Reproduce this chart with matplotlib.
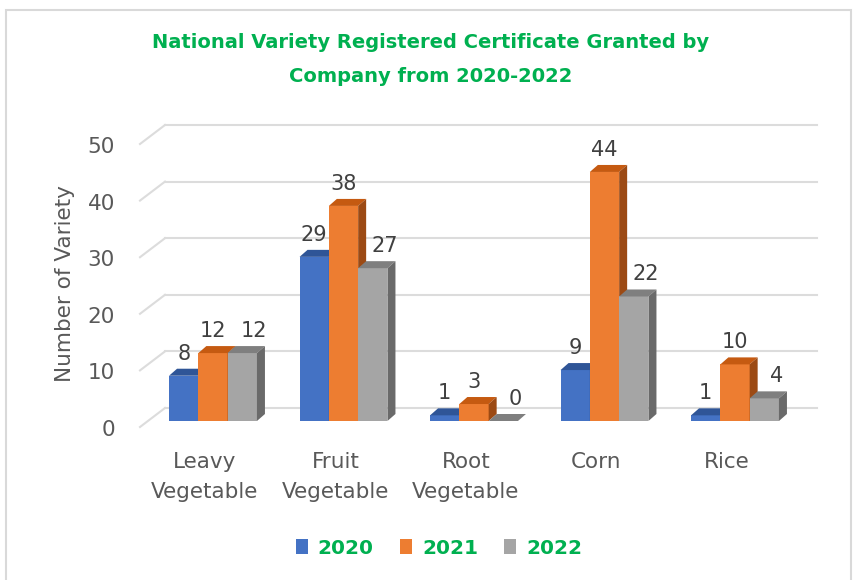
import matplotlib.pyplot as plt
from matplotlib.patches import Polygon, Rectangle, Patch

# data
categories = ['Leavy\nVegetable', 'Fruit\nVegetable', 'Root\nVegetable', 'Corn', 'Rice']
years = ['2020', '2021', '2022']
v2020 = [8, 29, 1, 9, 1]
v2021 = [12, 38, 3, 44, 10]
v2022 = [12, 27, 0, 22, 4]
yticks = [0, 10, 20, 30, 40, 50]

series = [v2020, v2021, v2022]
front_cols = ['#4472C4', '#ED7D31', '#A5A5A5']
top_cols = ['#2F5597', '#C55A11', '#7F7F7F']
side_cols = ['#2B4E8C', '#9C4A14', '#6A6A6A']
green = '#00B050'
txt_gray = '#595959'

plt.rcParams['font.family'] = ['DejaVu Sans']

W, H = 858, 580
fig = plt.figure(figsize=(W / 100, H / 100), dpi=100)

# axes placed in pixel space: x unit = one category (130.5 px), y unit = 5.66 px
px_x, px_y = 130.5, 5.66
x0_px, y0_px = 213, 421          # pixel of (category 0, value 0) on the front face
left_px, right_px, top_px, bot_px = 130, 840, 110, 440
ax = fig.add_axes([left_px / W, 1 - bot_px / H, (right_px - left_px) / W, (bot_px - top_px) / H])
ax.set_xlim((left_px - x0_px) / px_x, (right_px - x0_px) / px_x)
ax.set_ylim((y0_px - bot_px) / px_y, (y0_px - top_px) / px_y)
ax.axis('off')

# 3d depth offsets (data units)
dx = 8 / px_x
dy = 7 / px_y
back = 13 / px_y
bw = 29.3 / px_x

# back wall gridlines plus floor diagonals
gx0 = (165 - x0_px) / px_x
gx1 = (817 - x0_px) / px_x
fx0 = (140 - x0_px) / px_x
for t in yticks:
    ax.plot([gx0, gx1], [t + back, t + back], color='#DCDCDC', lw=1.5, zorder=1)
    ax.plot([fx0, gx0], [t - 6 / px_y, t + back], color='#DCDCDC', lw=1.5, zorder=1)
    ax.text(fx0 - 25 / px_x, t - 9 / px_y, str(t), ha='right', va='center',
            fontsize=15.5, color=txt_gray, clip_on=False)

# 3d-looking bars
for i in range(len(categories)):
    for k, vals in enumerate(series):
        v = vals[i]
        x = i + (k - 1) * bw - bw / 2
        z = 3 + i * 3 + k
        ax.add_patch(Rectangle((x, 0), bw, v, facecolor=front_cols[k], edgecolor='none', zorder=z))
        ax.add_patch(Polygon([(x, v), (x + dx, v + dy), (x + bw + dx, v + dy), (x + bw, v)],
                             closed=True, facecolor=top_cols[k], edgecolor='none', zorder=z))
        ax.add_patch(Polygon([(x + bw, 0), (x + bw + dx, dy), (x + bw + dx, v + dy), (x + bw, v)],
                             closed=True, facecolor=side_cols[k], edgecolor='none', zorder=z))
        shift = 12 / px_x if k == 2 else 0
        ax.text(x + bw / 2 + shift, v + 22 / px_y, str(v), ha='center', va='center',
                fontsize=15, color='#404040', zorder=40)

# category labels
for i, c in enumerate(categories):
    ax.text(i - 8 / px_x, (y0_px - 452) / px_y, c, ha='center', va='top', fontsize=15.5,
            color=txt_gray, linespacing=1.62, clip_on=False)

fig.text(65 / W, 1 - 284 / H, 'Number of Variety', rotation=90, ha='center', va='center',
         fontsize=15.5, color=txt_gray)

fig.text(431 / W, 1 - 43 / H, 'National Variety Registered Certificate Granted by',
         ha='center', va='center', fontsize=14, fontweight='bold', color=green)
fig.text(431 / W, 1 - 76 / H, 'Company from 2020-2022',
         ha='center', va='center', fontsize=14, fontweight='bold', color=green)

handles = [Patch(facecolor=c, edgecolor='none') for c in front_cols]
leg = fig.legend(handles, years, loc='center', bbox_to_anchor=(439 / W, 1 - 548 / H), ncol=3,
                 frameon=False, handlelength=0.6, handleheight=0.7, handletextpad=0.5,
                 columnspacing=1.3, prop={'weight': 'bold', 'size': 14.5})
for t in leg.get_texts():
    t.set_color(green)

# outer chart border
fig.patches.append(Rectangle((6 / W, -0.01), (851 - 6) / W, 1 - 10 / H + 0.01,
                             transform=fig.transFigure, fill=False, edgecolor='#D9D9D9', lw=1.5))

fig.savefig('out.png', dpi=100)
